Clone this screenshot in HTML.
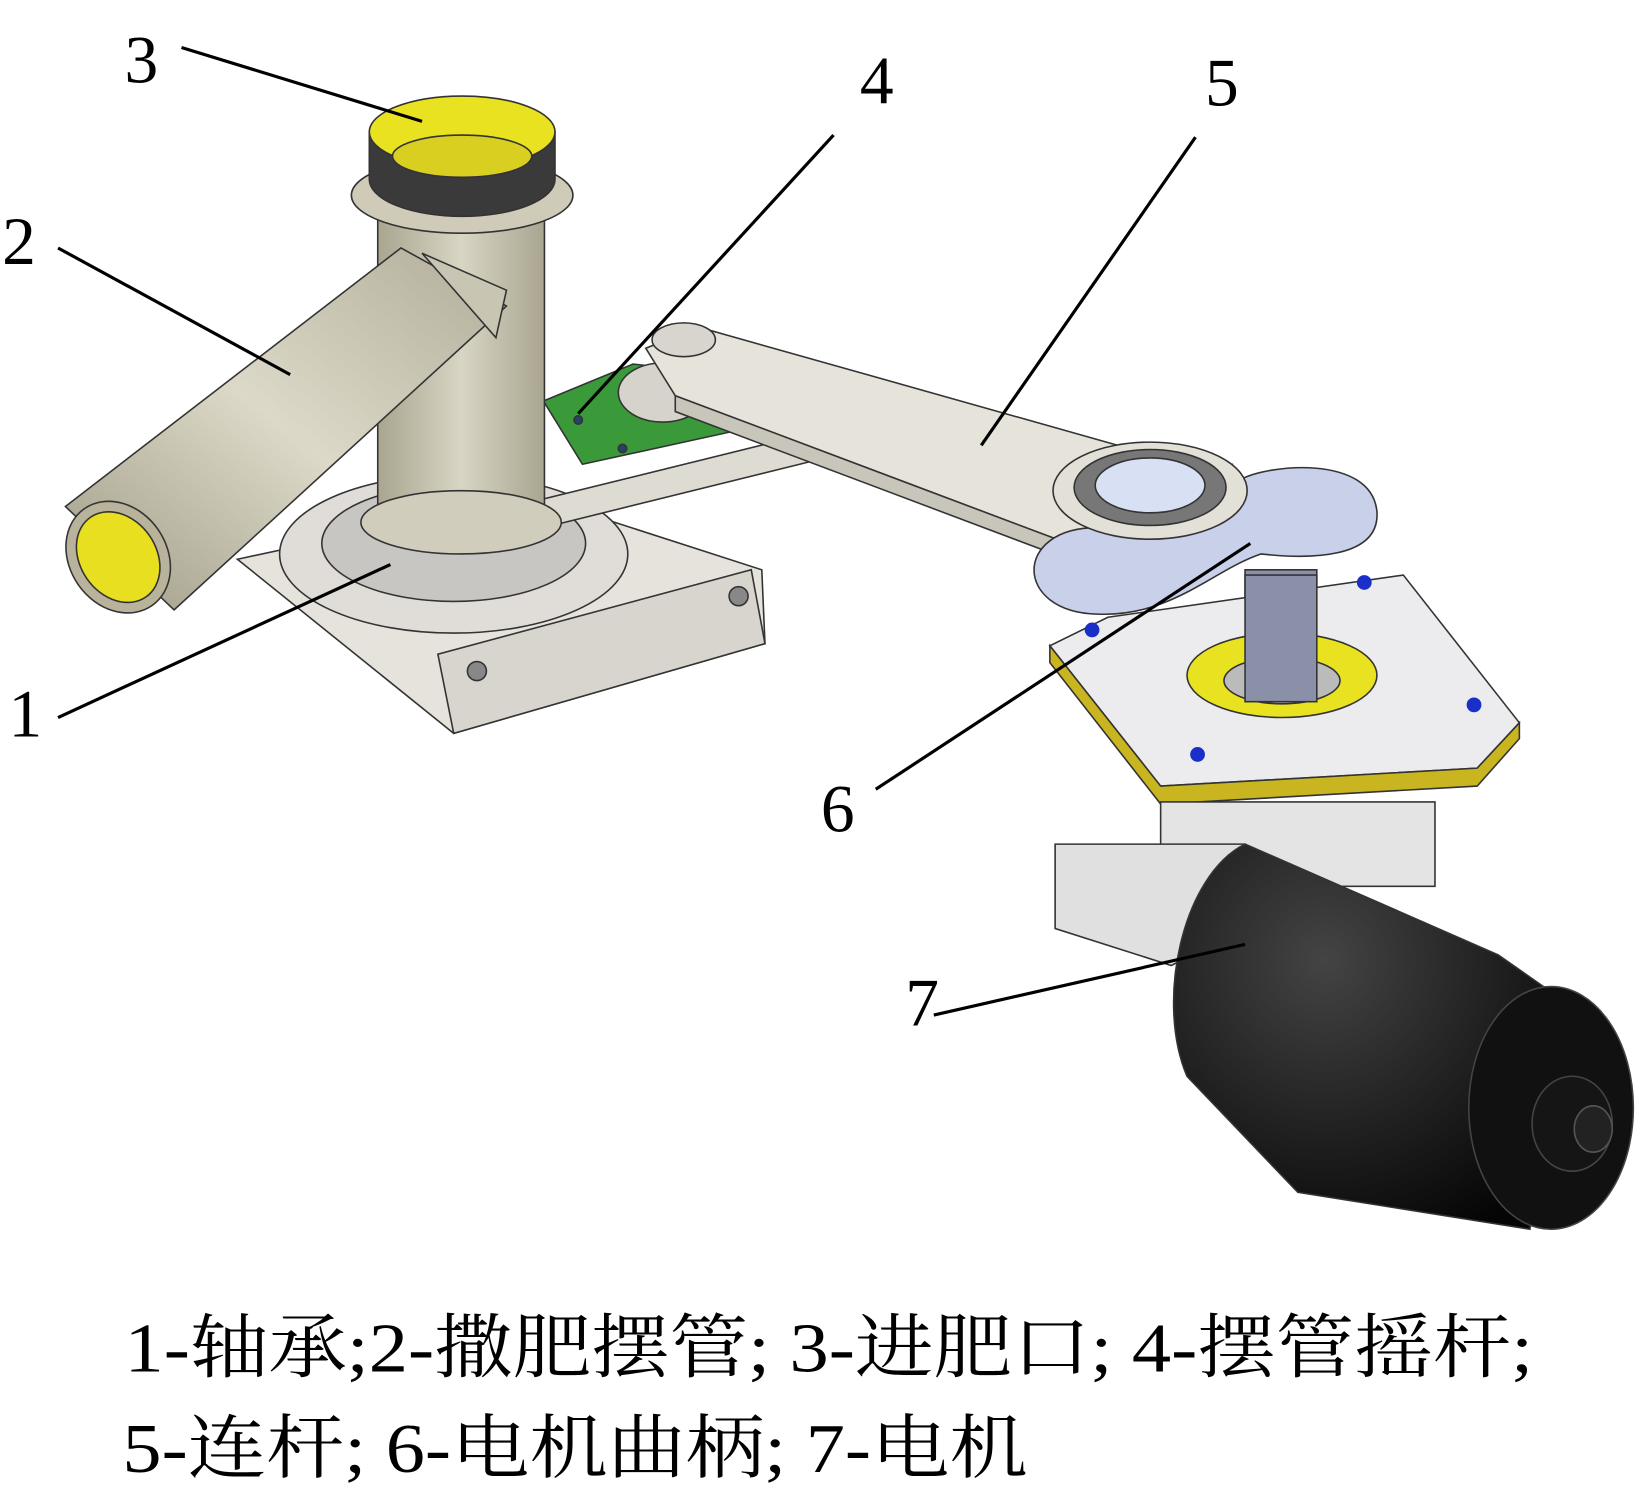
<!DOCTYPE html>
<html><head><meta charset="utf-8"><style>
html,body{margin:0;padding:0;background:#fff;}
svg{display:block;}
</style></head><body>
<svg width="1646" height="1492" viewBox="0 0 1560 1414" xmlns="http://www.w3.org/2000/svg">
<defs>
<linearGradient id="pipe" x1="0" y1="0" x2="1" y2="0"><stop offset="0" stop-color="#a9a58f"/><stop offset="0.5" stop-color="#d8d5c4"/><stop offset="1" stop-color="#a9a590"/></linearGradient>
<linearGradient id="tube" x1="0" y1="1" x2="1" y2="0"><stop offset="0" stop-color="#9e9a85"/><stop offset="0.5" stop-color="#dcd9c8"/><stop offset="1" stop-color="#b0ac98"/></linearGradient>
<radialGradient id="blk" cx="0.4" cy="0.3" r="0.8"><stop offset="0" stop-color="#444"/><stop offset="1" stop-color="#050505"/></radialGradient>
</defs>
<g stroke="#333" stroke-width="1.5">
<!-- base bracket left -->
<polygon points="225,530 430,695 725,610 722,540 505,470" fill="#e6e3dc"/>
<polygon points="415,620 430,695 725,610 712,540" fill="#d8d5ce"/>
<circle cx="452" cy="636" r="9" fill="#888"/><circle cx="700" cy="565" r="9" fill="#888"/>
<ellipse cx="430" cy="525" rx="165" ry="75" fill="#e0ddd8"/>
<ellipse cx="430" cy="515" rx="125" ry="55" fill="#c8c6c2"/>
<!-- rocker arm -->
<polygon points="478,482 495,505 790,432 770,410" fill="#dedbd3"/>
<!-- green plate -->
<polygon points="515,380 552,440 712,405 690,355 600,345" fill="#3a9a3a"/>
<circle cx="548" cy="398" r="4" fill="#246"/><circle cx="590" cy="425" r="4" fill="#246"/>
<ellipse cx="628" cy="372" rx="42" ry="28" fill="#d6d3cc"/>
<!-- vertical pipe -->
<rect x="358" y="195" width="158" height="300" fill="url(#pipe)"/>
<ellipse cx="437" cy="495" rx="95" ry="30" fill="#d0cdbd"/>
<!-- inclined tube -->
<polygon points="62,480 380,235 480,290 165,578" fill="url(#tube)"/>
<polygon points="400,240 480,275 470,320" fill="#c9c5b3"/>
<ellipse cx="112" cy="528" rx="46" ry="56" fill="#b8b39a" transform="rotate(-35 112 528)"/>
<ellipse cx="112" cy="528" rx="36" ry="46" fill="#e8df20" transform="rotate(-35 112 528)"/>
<!-- top collar -->
<ellipse cx="438" cy="185" rx="105" ry="36" fill="#cfcbb8"/>
<path d="M350,125 L350,170 A88,35 0 0 0 526,170 L526,125 Z" fill="#3a3a3a"/>
<ellipse cx="438" cy="125" rx="88" ry="34" fill="#e9e220"/>
<ellipse cx="438" cy="148" rx="66" ry="20" fill="#d8cf20"/>
<!-- connecting rod -->
<polygon points="612,330 640,375 1012,515 1170,490 1168,440 1070,425 662,310" fill="#e6e3da"/>
<ellipse cx="648" cy="322" rx="30" ry="16" fill="#d8d5ce"/>
<polygon points="640,375 1012,515 1012,530 640,390" fill="#c8c5bb"/>
<!-- crank -->
<path d="M1040,500 C1100,495 1150,470 1175,455 C1200,440 1300,430 1305,485 C1308,530 1240,530 1195,525 C1150,540 1110,585 1040,582 C960,580 960,500 1040,500 Z" fill="#c9d0ea"/>
<rect x="1180" y="540" width="68" height="130" fill="#8a90a8"/>
<ellipse cx="1090" cy="465" rx="92" ry="46" fill="#e3e0d8"/>
<ellipse cx="1090" cy="462" rx="72" ry="36" fill="#777"/>
<ellipse cx="1090" cy="460" rx="52" ry="26" fill="#d8e0f4"/>
<!-- motor plate -->
<polygon points="995,612 1100,745 1400,728 1440,685 1330,545 1050,585" fill="#ececee"/>
<polygon points="995,612 1100,745 1400,728 1440,685 1440,700 1400,745 1100,762 995,628" fill="#c9b520"/>
<ellipse cx="1215" cy="640" rx="90" ry="40" fill="#e8e220"/>
<ellipse cx="1215" cy="645" rx="55" ry="22" fill="#bbb"/>
<rect x="1180" y="545" width="68" height="120" fill="#8a90a8"/>
<g fill="#1a2ec8" stroke="none"><circle cx="1035" cy="597" r="7"/><circle cx="1293" cy="552" r="7"/><circle cx="1397" cy="668" r="7"/><circle cx="1135" cy="715" r="7"/><circle cx="1128" cy="773" r="7"/></g>
<!-- gearbox -->
<rect x="1100" y="760" width="260" height="80" fill="#e4e4e4"/>
<polygon points="1000,800 1000,880 1110,915 1180,880 1180,800" fill="#e0e0e0"/>
<!-- motor -->
<path d="M1180,800 L1420,905 L1470,940 L1450,1165 L1230,1130 L1125,1020 C1095,950 1120,830 1180,800 Z" fill="url(#blk)"/>
<ellipse cx="1470" cy="1050" rx="78" ry="115" fill="#111" stroke="#444"/>
<ellipse cx="1490" cy="1065" rx="38" ry="45" fill="#151515" stroke="#444"/>
<ellipse cx="1510" cy="1070" rx="18" ry="22" fill="#222" stroke="#555"/>
</g>
<!-- leader lines -->
<g stroke="#000" stroke-width="3">
<line x1="172" y1="45" x2="400" y2="115"/>
<line x1="55" y1="235" x2="275" y2="355"/>
<line x1="790" y1="128" x2="548" y2="392"/>
<line x1="1133" y1="130" x2="930" y2="422"/>
<line x1="55" y1="680" x2="370" y2="535"/>
<line x1="830" y1="748" x2="1185" y2="515"/>
<line x1="885" y1="962" x2="1180" y2="895"/>
</g>
<g font-family="Liberation Serif, serif" font-size="64" fill="#000">
<text x="118" y="78">3</text>
<text x="2" y="250">2</text>
<text x="815" y="98">4</text>
<text x="1142" y="100">5</text>
<text x="8" y="698">1</text>
<text x="778" y="788">6</text>
<text x="858" y="972">7</text>
</g>
<g font-family="Liberation Serif, 'Noto Serif CJK SC', serif" font-size="66" fill="#000">
<text x="118" y="1300" textLength="1335" lengthAdjust="spacingAndGlyphs">1-轴承;2-撒肥摆管; 3-进肥口; 4-摆管摇杆;</text>
<text x="116" y="1395" textLength="858" lengthAdjust="spacingAndGlyphs">5-连杆; 6-电机曲柄; 7-电机</text>
</g>
</svg>
</body></html>
